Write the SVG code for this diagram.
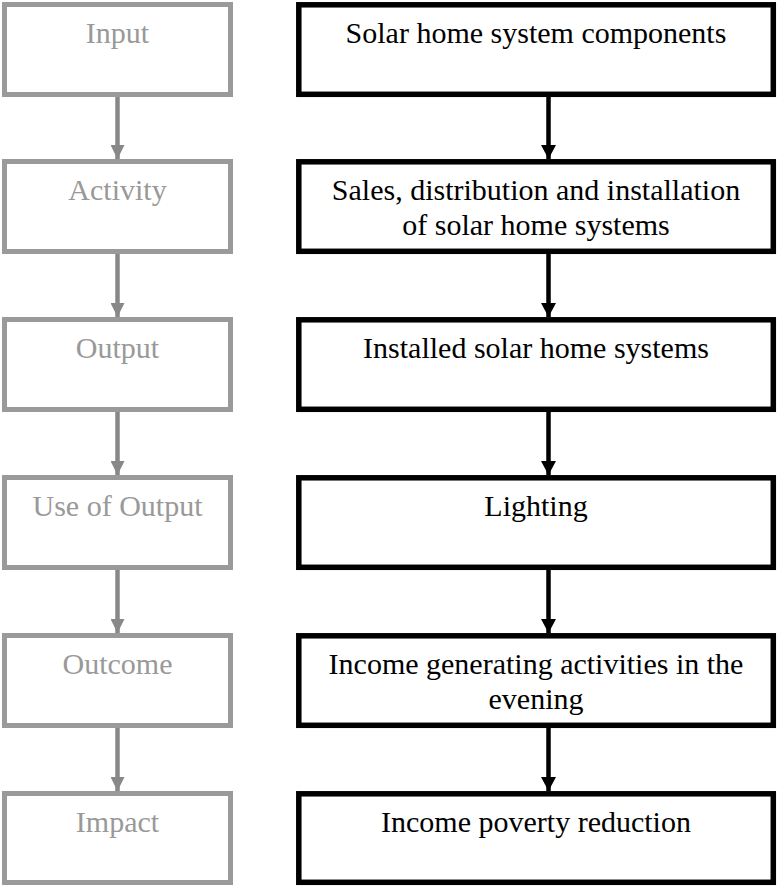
<svg xmlns="http://www.w3.org/2000/svg" width="778" height="886" viewBox="0 0 778 886">
<defs>
<style>
.lb{fill:#fff;stroke:#9a9a9a;stroke-width:5}
.rb{fill:#fff;stroke:#000;stroke-width:5.5}
.lt{font-family:"Liberation Serif","Times New Roman",serif;font-size:30px;fill:#999;text-anchor:middle}
.rt{font-family:"Liberation Serif","Times New Roman",serif;font-size:30px;fill:#000;text-anchor:middle}
.la{stroke:#888;stroke-width:4.5;fill:none}
.ra{stroke:#000;stroke-width:4.5;fill:none}
</style>
<marker id="ga" markerUnits="userSpaceOnUse" markerWidth="15" markerHeight="14" refX="14" refY="7" orient="auto"><path d="M0,0 L14,7 L0,14 Z" fill="#888"/></marker>
<marker id="ba" markerUnits="userSpaceOnUse" markerWidth="15" markerHeight="16" refX="14" refY="7.5" orient="auto"><path d="M0,0 L14,7.5 L0,15 Z" fill="#000"/></marker>
</defs>
<g id="connectors">
<line class="la" x1="117.5" y1="97" x2="117.5" y2="159" marker-end="url(#ga)"/>
<line class="la" x1="117.5" y1="254" x2="117.5" y2="317" marker-end="url(#ga)"/>
<line class="la" x1="117.5" y1="412" x2="117.5" y2="475" marker-end="url(#ga)"/>
<line class="la" x1="117.5" y1="570" x2="117.5" y2="633" marker-end="url(#ga)"/>
<line class="la" x1="117.5" y1="727" x2="117.5" y2="791" marker-end="url(#ga)"/>
<line class="ra" x1="548.5" y1="97" x2="548.5" y2="159" marker-end="url(#ba)"/>
<line class="ra" x1="548.5" y1="254" x2="548.5" y2="317" marker-end="url(#ba)"/>
<line class="ra" x1="548.5" y1="412" x2="548.5" y2="475" marker-end="url(#ba)"/>
<line class="ra" x1="548.5" y1="570" x2="548.5" y2="633" marker-end="url(#ba)"/>
<line class="ra" x1="548.5" y1="727" x2="548.5" y2="791" marker-end="url(#ba)"/>
</g>
<g id="input"><rect class="lb" x="4.5" y="4.5" width="226" height="90"/><text class="lt" x="117.5" y="43">Input</text></g>
<g id="activity"><rect class="lb" x="4.5" y="161.5" width="226" height="90"/><text class="lt" x="117.5" y="200">Activity</text></g>
<g id="output"><rect class="lb" x="4.5" y="319.5" width="226" height="90"/><text class="lt" x="117.5" y="358">Output</text></g>
<g id="use-of-output"><rect class="lb" x="4.5" y="477.5" width="226" height="90"/><text class="lt" x="117.5" y="516">Use of Output</text></g>
<g id="outcome"><rect class="lb" x="4.5" y="635.5" width="226" height="90"/><text class="lt" x="117.5" y="674">Outcome</text></g>
<g id="impact"><rect class="lb" x="4.5" y="793.5" width="226" height="89"/><text class="lt" x="117.5" y="832">Impact</text></g>
<g id="components"><rect class="rb" x="298.8" y="4.8" width="474.5" height="89.5"/><text class="rt" x="536" y="43">Solar home system components</text></g>
<g id="sales"><rect class="rb" x="298.8" y="161.8" width="474.5" height="89.5"/><text class="rt" x="536" y="200">Sales, distribution and installation</text><text class="rt" x="536" y="235">of solar home systems</text></g>
<g id="installed"><rect class="rb" x="298.8" y="319.8" width="474.5" height="89.5"/><text class="rt" x="536" y="358">Installed solar home systems</text></g>
<g id="lighting"><rect class="rb" x="298.8" y="477.8" width="474.5" height="89.5"/><text class="rt" x="536" y="516">Lighting</text></g>
<g id="income-activities"><rect class="rb" x="298.8" y="635.8" width="474.5" height="89.5"/><text class="rt" x="536" y="674">Income generating activities in the</text><text class="rt" x="536" y="709">evening</text></g>
<g id="poverty"><rect class="rb" x="298.8" y="793.8" width="474.5" height="88.5"/><text class="rt" x="536" y="832">Income poverty reduction</text></g>
</svg>
